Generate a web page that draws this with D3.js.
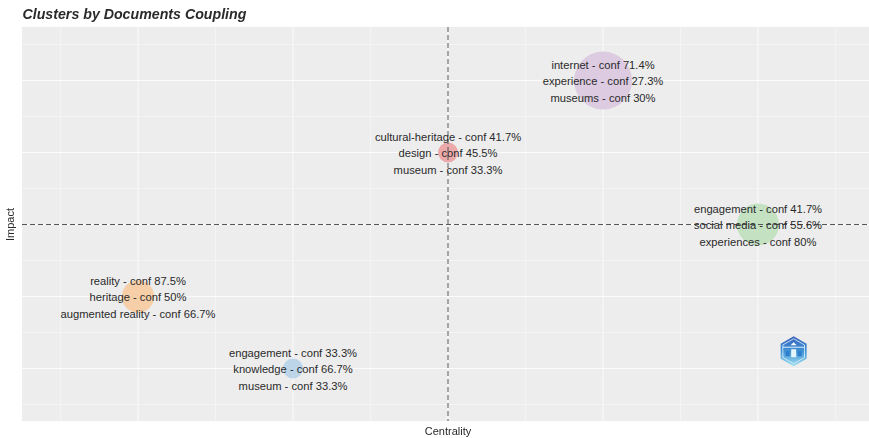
<!DOCTYPE html>
<html>
<head>
<meta charset="utf-8">
<script src="https://d3js.org/d3.v7.min.js"></script>
<style>
  body { margin: 0; background: #fff; overflow: hidden; }
  svg { display: block; filter: blur(0.5px); }
  text { font-family: "Liberation Sans", Arial, sans-serif; fill: #2a2a2a; }
</style>
</head>
<body>
<div id="my_dataviz"></div>
<script>

// cluster data
var centrality = [3, 4, 5, 1, 2];
var impact = [4, 5, 3, 2, 1];
var frequency = [10, 84, 44, 26, 10];
var colors = ["#eba9a9", "#dccbe1", "#c4e1c2", "#f6cfa8", "#bcd5e8"];
var labels = [
  ["cultural-heritage - conf 41.7%", "design - conf 45.5%", "museum - conf 33.3%"],
  ["internet - conf 71.4%", "experience - conf 27.3%", "museums - conf 30%"],
  ["engagement - conf 41.7%", "social media - conf 55.6%", "experiences - conf 80%"],
  ["reality - conf 87.5%", "heritage - conf 50%", "augmented reality - conf 66.7%"],
  ["engagement - conf 33.3%", "knowledge - conf 66.7%", "museum - conf 33.3%"]
];
var majorTicks = [1, 2, 3, 4, 5];
var minorTicks = [0.5, 1.5, 2.5, 3.5, 4.5, 5.5];
var meanLine = 3;
var logoSpot = [5.23, 1.24];

var width = 869, height = 438;
var margin = {top: 27, right: 0, bottom: 17, left: 22};

var svg = d3.select("#my_dataviz")
  .append("svg")
    .attr("width", width)
    .attr("height", height);

var x = d3.scaleLinear().domain([0.25, 5.75]).range([21.75, 874.25]);
var y = d3.scaleLinear().domain([0.25, 5.75]).range([422.5, 26.5]);
var r = d3.scaleSqrt().domain([0, 84]).range([0, 29]);

// panel
svg.append("rect")
  .attr("x", margin.left)
  .attr("y", margin.top)
  .attr("width", width - margin.left)
  .attr("height", height - margin.top - margin.bottom)
  .attr("fill", "#ededed");

svg.append("clipPath").attr("id", "panel")
  .append("rect")
  .attr("x", margin.left)
  .attr("y", margin.top)
  .attr("width", width - margin.left)
  .attr("height", height - margin.top - margin.bottom);

var plot = svg.append("g").attr("clip-path", "url(#panel)");

// grid, minor first
function grid(ticks, w, op) {
  plot.append("g").selectAll("line").data(ticks).enter().append("line")
    .attr("x1", function(d) { return x(d); })
    .attr("x2", function(d) { return x(d); })
    .attr("y1", margin.top)
    .attr("y2", height - margin.bottom)
    .attr("stroke", "#fff").attr("stroke-width", w).attr("stroke-opacity", op);
  plot.append("g").selectAll("line").data(ticks).enter().append("line")
    .attr("y1", function(d) { return y(d); })
    .attr("y2", function(d) { return y(d); })
    .attr("x1", margin.left)
    .attr("x2", width)
    .attr("stroke", "#fff").attr("stroke-width", w).attr("stroke-opacity", op);
}
grid(minorTicks, 0.6, 0.7);
grid(majorTicks, 1, 0.8);

// the bubbles
plot.selectAll("circle")
  .data(frequency)
  .enter().append("circle")
    .attr("cx", function(d, i) { return x(centrality[i]); })
    .attr("cy", function(d, i) { return y(impact[i]); })
    .attr("r", function(d) { return r(d); })
    .attr("fill", function(d, i) { return colors[i]; });

// mean lines
plot.append("line")
  .attr("x1", margin.left).attr("x2", width)
  .attr("y1", y(meanLine)).attr("y2", y(meanLine))
  .attr("stroke", "#555").attr("stroke-dasharray", "5,3");
plot.append("line")
  .attr("x1", x(meanLine)).attr("x2", x(meanLine))
  .attr("y1", margin.top).attr("y2", height - margin.bottom)
  .attr("stroke", "#555").attr("stroke-dasharray", "5,3");

// cluster labels, three rows each
var groups = plot.append("g").selectAll("g")
  .data(labels)
  .enter().append("g")
    .attr("transform", function(d, i) { return "translate(" + x(centrality[i]) + "," + y(impact[i]) + ")"; });

groups.selectAll("text")
  .data(function(d) { return d; })
  .enter().append("text")
    .attr("text-anchor", "middle")
    .attr("y", function(d, i) { return (i - 1) * 16.4 + 4.6; })
    .style("font-size", "11.2px")
    .text(function(d) { return d; });

// titles
svg.append("text")
  .attr("x", margin.left + 0.5).attr("y", 19)
  .style("font-size", "14.2px").style("font-weight", "bold").style("font-style", "italic")
  .text("Clusters by Documents Coupling");

svg.append("text")
  .attr("x", x(meanLine)).attr("y", 435)
  .attr("text-anchor", "middle")
  .style("font-size", "11px")
  .text("Centrality");

svg.append("text")
  .attr("transform", "translate(14," + y(meanLine) + ") rotate(-90)")
  .attr("text-anchor", "middle")
  .style("font-size", "11px")
  .text("Impact");

// small hexagon badge
var defs = svg.append("defs");
var grad = defs.append("linearGradient").attr("id", "badge")
  .attr("x1", 0).attr("x2", 0).attr("y1", 0).attr("y2", 1);
grad.append("stop").attr("offset", "0%").attr("stop-color", "#3a62bd");
grad.append("stop").attr("offset", "50%").attr("stop-color", "#3f93d6");
grad.append("stop").attr("offset", "100%").attr("stop-color", "#a2e0f0");

var badge = plot.append("g")
  .attr("transform", "translate(" + x(logoSpot[0]) + "," + y(logoSpot[1]) + ")");
var hex = function(s) {
  return d3.range(6).map(function(i) {
    var a = Math.PI / 3 * i - Math.PI / 2;
    return [s * Math.cos(a), s * Math.sin(a)];
  });
};
var hexLine = d3.line().curve(d3.curveLinearClosed);
badge.append("path").attr("d", hexLine(hex(15))).attr("fill", "url(#badge)");
badge.append("path").attr("d", hexLine(hex(12.5))).attr("fill", "none").attr("stroke", "#dff2fa").attr("stroke-width", 0.8);
badge.append("path").attr("d", "M-3,-6L0,-9L3,-6Z").attr("fill", "#fff");
badge.append("rect").attr("x", -11).attr("y", -4.5).attr("width", 22).attr("height", 1).attr("fill", "#dff2fa");
badge.append("rect").attr("x", -2.5).attr("y", -2).attr("width", 5).attr("height", 8).attr("fill", "#e6f5fb");
badge.append("rect").attr("x", -8).attr("y", 0).attr("width", 4).attr("height", 5).attr("fill", "#2f7ecb");
badge.append("rect").attr("x", 4).attr("y", 0).attr("width", 4).attr("height", 5).attr("fill", "#2f7ecb");

</script>
</body>
</html>
